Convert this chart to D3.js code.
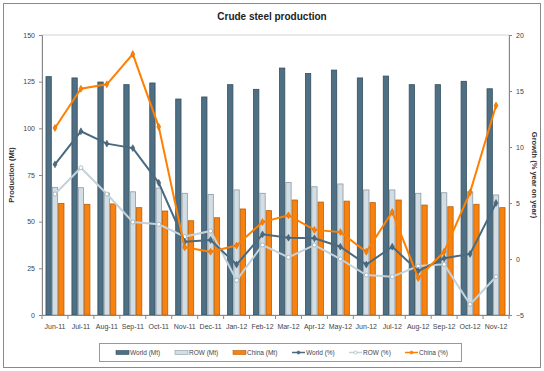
<!DOCTYPE html>
<html>
<head>
<meta charset="utf-8">
<script src="https://cdn.jsdelivr.net/npm/d3@7"></script>
<style>
  body { margin: 0; background: #fff; }
  text { font-family: Arial, "Liberation Sans", sans-serif; }
</style>
</head>
<body>
<svg width="544" height="371"></svg>
<script>

// data
let months = ['Jun-11','Jul-11','Aug-11','Sep-11','Oct-11','Nov-11','Dec-11','Jan-12','Feb-12',
              'Mar-12','Apr-12','May-12','Jun-12','Jul-12','Aug-12','Sep-12','Oct-12','Nov-12'];
let worldMt = [127.7,127,124.8,123.4,124.3,115.7,116.8,123.4,120.9,132.3,129.4,131.2,127,128,123.4,123.4,125.2,121.2];
let rowMt   = [68.4,68.2,65.3,66,68,65.2,64.6,67,65.2,71,68.7,70.2,67,67,65.2,65.5,66,64.3];
let chinaMt = [59.8,59.3,59.5,57.5,55.7,50.5,52.1,56.8,55.9,61.6,60.5,61,60.2,61.6,58.9,58,59.3,57.5];
let worldPct = [8.45,11.4,10.3,9.9,6.8,1.55,1.7,-0.5,2.2,1.9,1.85,1.1,-0.5,1.1,-1.07,0.06,0.45,5.0];
let rowPct   = [5.8,8.15,5.8,3.3,3.1,2.0,2.5,-1.9,1.25,0.15,1.25,0,-1.43,-1.58,-0.63,-0.48,-4.05,-1.58];
let chinaPct = [11.7,15.2,15.6,18.3,11.8,1.04,0.65,1.2,3.3,3.9,2.6,2.4,0.65,4.2,-1.7,0.65,5.95,13.7];

let svg = d3.select('svg');
let width  = +svg.attr('width');
let height = +svg.attr('height');

// outer frame
svg.append('rect')
    .attr('x',3.5).attr('y',3.5)
    .attr('width',width - 7).attr('height',height - 7)
    .attr('fill','#fff')
    .attr('stroke','#8a8a8a');

let pLeft = 42, pRight = 509, pTop = 35, pBottom = 315;

let x = d3.scaleBand()
    .domain(months)
    .range([pLeft, pRight]);

let xBar = d3.scaleBand()
    .domain(['world','row','china'])
    .range([0, 19])
    .paddingInner(0);

let y = d3.scaleLinear()
    .domain([0,150])
    .range([pBottom, pTop]);

let y2 = d3.scaleLinear()
    .domain([-5,20])
    .range([pBottom, pTop]);

// title
svg.append('text')
    .attr('x',272).attr('y',20)
    .attr('text-anchor','middle')
    .style('font-size','10px')
    .style('font-weight','bold')
    .style('fill','#222')
    .text('Crude steel production');

// plot area border
svg.append('rect')
    .attr('x',pLeft).attr('y',pTop)
    .attr('width',pRight - pLeft).attr('height',pBottom - pTop)
    .attr('fill','none')
    .attr('stroke','#c8c8c8')
    .attr('stroke-width',0.8);

// bars
let series = [
    {key:'world', values:worldMt, fill:'#4e6f84', stroke:'#34505f'},
    {key:'row',   values:rowMt,   fill:'#d3dde4', stroke:'#8c9aa3'},
    {key:'china', values:chinaMt, fill:'#f7820f', stroke:'#b85f0a'}
];

let offset = (x.bandwidth() - xBar.range()[1]) / 2;

series.forEach(function (s) {
    svg.append('g')
        .selectAll('rect')
        .data(s.values)
        .enter().append('rect')
        .attr('x', (d,i) => x(months[i]) + offset + xBar(s.key) + 0.5)
        .attr('y', d => y(d))
        .attr('width', xBar.bandwidth() - 1)
        .attr('height', d => y(0) - y(d))
        .attr('fill', s.fill)
        .attr('stroke', s.stroke)
        .attr('stroke-width', 0.8);
});

// axes
let axisLeft = svg.append('g')
    .attr('transform','translate(' + pLeft + ',0)')
    .call(d3.axisLeft(y).tickValues([0,25,50,75,100,125,150]).tickSize(3).tickPadding(4));

let axisRight = svg.append('g')
    .attr('transform','translate(' + pRight + ',0)')
    .call(d3.axisRight(y2).tickValues([-5,0,5,10,15,20]).tickSize(3).tickPadding(4));

let axisBottom = svg.append('g')
    .attr('transform','translate(0,' + pBottom + ')')
    .call(d3.axisBottom(x).tickSize(0).tickPadding(9));

// category separators on the bottom axis
svg.append('g')
    .selectAll('line')
    .data(months.concat(['end']))
    .enter().append('line')
    .attr('x1', (d,i) => pLeft + i * x.step())
    .attr('x2', (d,i) => pLeft + i * x.step())
    .attr('y1', pBottom)
    .attr('y2', pBottom + 4)
    .attr('stroke','#888');

[axisLeft, axisRight, axisBottom].forEach(function (a) {
    a.select('.domain').attr('stroke','#888');
    a.selectAll('.tick line').attr('stroke','#888');
    a.selectAll('.tick text').style('font-size','7px').style('fill','#444').style('font-family','Arial, "Liberation Sans", sans-serif');
});

// axis titles
svg.append('text')
    .attr('transform','translate(14,' + ((pTop + pBottom) / 2) + ') rotate(-90)')
    .attr('text-anchor','middle')
    .style('font-size','7.5px')
    .style('font-weight','bold')
    .style('fill','#333')
    .text('Production (Mt)');

svg.append('text')
    .attr('transform','translate(532,' + ((pTop + pBottom) / 2) + ') rotate(90)')
    .attr('text-anchor','middle')
    .style('font-size','7.5px')
    .style('font-weight','bold')
    .style('fill','#333')
    .text('Growth (% year on year)');

// lines
let lines = [
    {name:'ROW (%)',   values:rowPct,   color:'#c4d2da', marker:'circle'},
    {name:'World (%)', values:worldPct, color:'#4a6a7f', marker:'diamond'},
    {name:'China (%)', values:chinaPct, color:'#ff8000', marker:'diamond'}
];

let line = d3.line()
    .x((d,i) => x(months[i]) + x.bandwidth() / 2)
    .y(d => y2(d));

let diamond = d3.symbol().type(d3.symbolDiamond).size(14);

lines.forEach(function (l) {
    let g = svg.append('g');
    g.append('path')
        .datum(l.values)
        .attr('d', line)
        .attr('fill','none')
        .attr('stroke', l.color)
        .attr('stroke-width', 2);

    if (l.marker == 'circle') {
        g.selectAll('circle')
            .data(l.values)
            .enter().append('circle')
            .attr('cx', (d,i) => x(months[i]) + x.bandwidth() / 2)
            .attr('cy', d => y2(d))
            .attr('r', 2)
            .attr('fill','#fff')
            .attr('stroke','#9aabb5')
            .attr('stroke-width',0.8);
    } else {
        g.selectAll('path.m')
            .data(l.values)
            .enter().append('path')
            .attr('class','m')
            .attr('d', diamond)
            .attr('transform', (d,i) => 'translate(' + (x(months[i]) + x.bandwidth() / 2) + ',' + y2(d) + ')')
            .attr('fill', l.color)
            .attr('stroke', d3.color(l.color).darker(0.6))
            .attr('stroke-width',0.5);
    }
});

// legend
svg.append('rect')
    .attr('x',99.5).attr('y',343.5)
    .attr('width',362).attr('height',18)
    .attr('fill','#fff')
    .attr('stroke','#999');

let legendItems = [
    {name:'World (Mt)', type:'bar',  fill:'#4e6f84', stroke:'#34505f', x:116},
    {name:'ROW (Mt)',   type:'bar',  fill:'#d3dde4', stroke:'#8c9aa3', x:175},
    {name:'China (Mt)', type:'bar',  fill:'#f7820f', stroke:'#b85f0a', x:233},
    {name:'World (%)',  type:'line', fill:'#4a6a7f', stroke:'#4a6a7f', x:292},
    {name:'ROW (%)',    type:'line', fill:'#fff',    stroke:'#c4d2da', x:349},
    {name:'China (%)',  type:'line', fill:'#ff8000', stroke:'#ff8000', x:405}
];

let lg = svg.append('g')
    .selectAll('g')
    .data(legendItems)
    .enter().append('g')
    .attr('transform', d => 'translate(' + d.x + ',352.5)');

lg.filter(d => d.type == 'bar').append('rect')
    .attr('x',0).attr('y',-2)
    .attr('width',13).attr('height',4)
    .attr('fill', d => d.fill)
    .attr('stroke', d => d.stroke)
    .attr('stroke-width',0.6);

lg.filter(d => d.type == 'line').append('line')
    .attr('x1',0).attr('x2',13)
    .attr('stroke', d => d.stroke)
    .attr('stroke-width',1.5);

lg.filter(d => d.type == 'line').append('circle')
    .attr('cx',6.5).attr('r',1.5)
    .attr('fill', d => d.fill)
    .attr('stroke', d => d.name == 'ROW (%)' ? '#9aabb5' : d.stroke)
    .attr('stroke-width',0.6);

lg.append('text')
    .attr('x',14).attr('y',2.5)
    .style('font-size','6.5px')
    .style('fill','#444')
    .text(d => d.name);

</script>
</body>
</html>
